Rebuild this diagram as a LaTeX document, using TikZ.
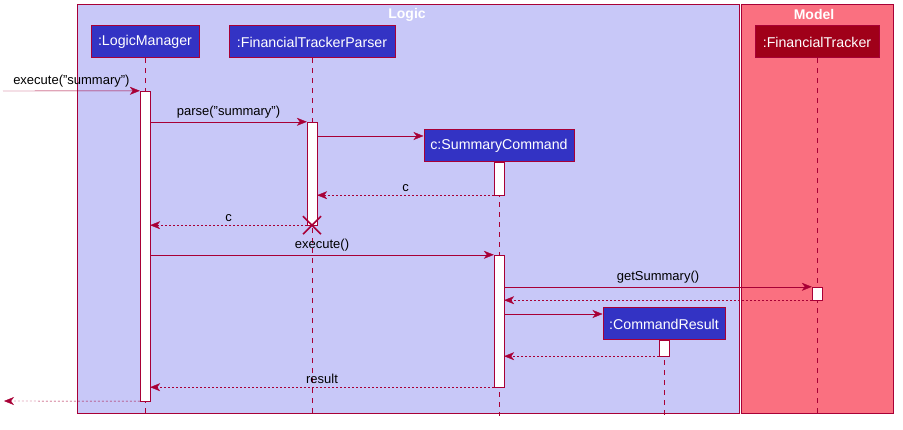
\documentclass[tikz,border=0pt]{standalone}
\usepackage{fontspec}
\setmainfont{Liberation Sans}
\usetikzlibrary{arrows.meta}
\definecolor{crim}{RGB}{168,0,54}
\definecolor{logicbg}{RGB}{200,200,248}
\definecolor{modelbg}{RGB}{250,112,128}
\definecolor{partblue}{RGB}{51,51,196}
\definecolor{partred}{RGB}{160,0,25}
\begin{document}
\begin{tikzpicture}[x=1pt, y=-1pt, >={Stealth[length=10pt,width=8pt,inset=3pt]},
    every node/.style={font=\fontsize{13}{15}\selectfont},
    part/.style={draw=crim, line width=1pt, fill=partblue, text=white, minimum height=32pt, inner sep=0pt, font=\fontsize{14.2}{16}\selectfont},
    act/.style={draw=crim, fill=white, minimum width=10pt, inner sep=0pt},
    life/.style={crim, dash pattern=on 5pt off 5pt},
    msg/.style={->, crim},
    ret/.style={->, crim, dash pattern=on 2pt off 2pt},
    lbl/.style={above, text=black, inner sep=3.5pt},
    title/.style={text=white, font=\bfseries\fontsize{14}{16}\selectfont}]
\useasboundingbox (0,0) rectangle (903,430);
\draw[crim, fill=logicbg](77,4) rectangle (739,413);
\draw[crim, fill=modelbg](741,4) rectangle (893,413);
\node[title] (logicT) at (407,15) {Logic};
\node[title] (modelT) at (814,15) {Model};
\node[part, minimum width=108pt] (lm) at (145,42) {:LogicManager};
\node[part, minimum width=166pt] (ftp) at (312,42) {:FinancialTrackerParser};
\node[part, minimum width=124pt, fill=partred] (ft) at (817,42) {:FinancialTracker};
\node[part, minimum width=150pt] (sc) at (499,146) {c:SummaryCommand};
\node[part, minimum width=122pt] (cr) at (664,324) {:CommandResult};
\coordinate (bot) at (0,416);
\foreach \p in {lm, ftp, ft, sc, cr}
    \draw[life](\p.south)--(\p.south |- bot);
\node[act, minimum height=310pt] (lmA) at (145,246) {};
\node[act, minimum height=103pt] (pA) at (312,173.5) {};
\node[act, minimum height=33pt] (scA) at (499,178.5) {};
\node[act, minimum height=132pt] (scB) at (499,321) {};
\node[act, minimum height=13pt] (ftA) at (817,293.5) {};
\node[act, minimum height=16pt] (crA) at (664,348) {};
\coordinate (in) at (3,91);
\coordinate (out) at (4,401);
\draw[msg](in)--(lmA.north west) node[lbl, midway]{execute("summary")};
\draw[msg](lmA.east |- pA.north)--(pA.north west) node[lbl, midway]{parse("summary")};
\draw[msg](pA.east |- 0,136)--([yshift=10pt]sc.west);
\draw[ret](scA.south west)--(pA.east |- scA.south) node[lbl, midway]{c};
\draw[ret](pA.south west)--(lmA.east |- pA.south) node[lbl, midway]{c};
\draw[crim, line width=1.5pt]([shift={(-9,-9)}]pA.south)--([shift={(9,9)}]pA.south)
    ([shift={(-9,9)}]pA.south)--([shift={(9,-9)}]pA.south);
\draw[msg](lmA.east |- scB.north)--(scB.north west) node[lbl, midway]{execute()};
\draw[msg](scB.east |- ftA.north)--(ftA.north west) node[lbl, midway]{getSummary()};
\draw[ret](ftA.south west)--(scB.east |- ftA.south);
\draw[msg](scB.east |- 0,314)--([yshift=10pt]cr.west);
\draw[ret](crA.south west)--(scB.east |- crA.south);
\draw[ret](scB.south west)--(lmA.east |- scB.south) node[lbl, midway]{result};
\draw[ret](lmA.south west)--(out);
\end{tikzpicture}
\end{document}
